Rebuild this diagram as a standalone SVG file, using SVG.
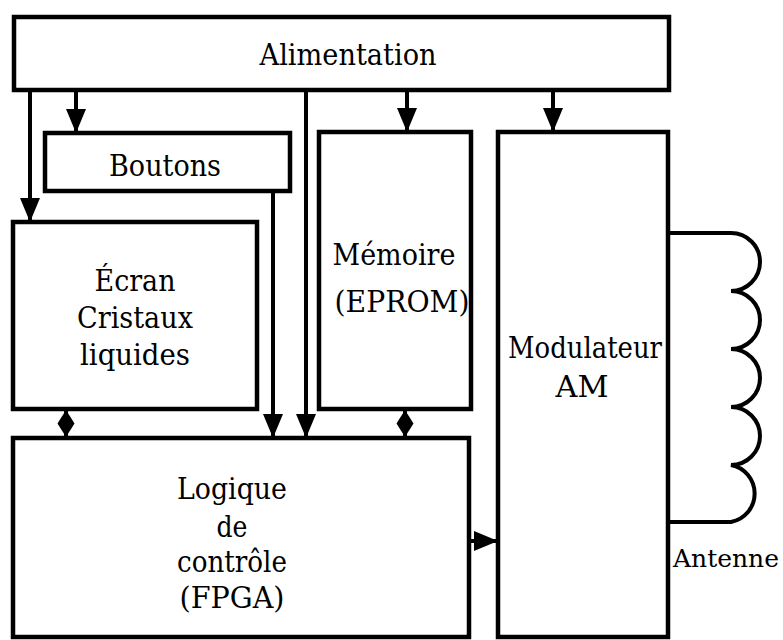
<svg xmlns="http://www.w3.org/2000/svg" width="783" height="640" viewBox="0 0 783 640">
<style>
.box{fill:#fff;stroke:#000;stroke-width:4.5}
.ln{fill:none;stroke:#000;stroke-width:4}
text{font-family:'DejaVu Serif',serif;font-size:29px;fill:#000}
.t{text-anchor:middle}
.dia{fill:#000}
</style>
<defs>
<marker id="arr" viewBox="0 0 24 20" refX="24" refY="10" markerWidth="24" markerHeight="20" markerUnits="userSpaceOnUse" orient="auto">
<path d="M0,0 L24,10 L0,20 z" fill="#000"/>
</marker>
</defs>
<rect width="783" height="640" fill="#fff"/>
<g id="alimentation">
<rect class="box" x="14" y="17" width="655" height="73"/>
<text class="t" x="348" y="65" textLength="177" lengthAdjust="spacingAndGlyphs">Alimentation</text>
</g>
<g id="boutons">
<rect class="box" x="45" y="133" width="245" height="58"/>
<text class="t" x="165" y="176" textLength="112" lengthAdjust="spacingAndGlyphs">Boutons</text>
</g>
<g id="ecran">
<rect class="box" x="13" y="222" width="244" height="187"/>
<text class="t" x="135" y="291" textLength="81" lengthAdjust="spacingAndGlyphs">Écran</text>
<text class="t" x="135" y="328" textLength="116" lengthAdjust="spacingAndGlyphs">Cristaux</text>
<text class="t" x="135" y="365" textLength="110" lengthAdjust="spacingAndGlyphs">liquides</text>
</g>
<g id="memoire">
<rect class="box" x="319" y="132" width="152" height="277"/>
<text class="t" x="394" y="265" textLength="123" lengthAdjust="spacingAndGlyphs">Mémoire</text>
<text class="t" x="402" y="312" textLength="135" lengthAdjust="spacingAndGlyphs">(EPROM)</text>
</g>
<g id="modulateur">
<rect class="box" x="498" y="132" width="170" height="505"/>
<text class="t" x="585" y="358" textLength="154" lengthAdjust="spacingAndGlyphs">Modulateur</text>
<text class="t" x="582" y="397" textLength="53" lengthAdjust="spacingAndGlyphs">AM</text>
</g>
<g id="logique">
<rect class="box" x="13" y="438" width="456" height="199"/>
<text class="t" x="232" y="499" textLength="110" lengthAdjust="spacingAndGlyphs">Logique</text>
<text class="t" x="232" y="537" textLength="31" lengthAdjust="spacingAndGlyphs">de</text>
<text class="t" x="232" y="572" textLength="110" lengthAdjust="spacingAndGlyphs">contrôle</text>
<text class="t" x="232" y="608" textLength="105" lengthAdjust="spacingAndGlyphs">(FPGA)</text>
</g>
<g id="antenne">
<path class="ln" d="M668,233 H731 A29,29 0 0 1 731,291 A29,29 0 0 1 731,349 A29,29 0 0 1 731,407 A29,29 0 0 1 731,465 A29,29 0 0 1 731,522 H668"/>
<text x="673" y="567" style="font-size:25px" textLength="106" lengthAdjust="spacingAndGlyphs">Antenne</text>
</g>
<g id="connectors">
<line class="ln" x1="30" y1="90" x2="30" y2="222" marker-end="url(#arr)"/>
<line class="ln" x1="76" y1="90" x2="76" y2="133" marker-end="url(#arr)"/>
<line class="ln" x1="306" y1="90" x2="306" y2="438" marker-end="url(#arr)"/>
<line class="ln" x1="407" y1="90" x2="407" y2="132" marker-end="url(#arr)"/>
<line class="ln" x1="553" y1="90" x2="553" y2="132" marker-end="url(#arr)"/>
<line class="ln" x1="273" y1="191" x2="273" y2="438" marker-end="url(#arr)"/>
<line class="ln" x1="469" y1="541" x2="498" y2="541" marker-end="url(#arr)"/>
<line class="ln" x1="66" y1="409" x2="66" y2="438"/>
<path class="dia" d="M66,410 L74.5,423.5 L66,437 L57.5,423.5 z"/>
<line class="ln" x1="405" y1="409" x2="405" y2="438"/>
<path class="dia" d="M405,410 L413.5,423.5 L405,437 L396.5,423.5 z"/>
</g>
</svg>
